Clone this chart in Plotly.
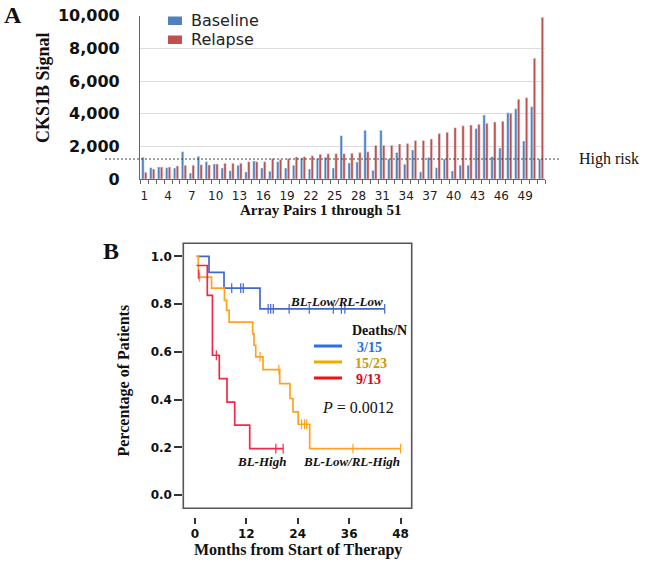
import plotly.graph_objects as go

# ---------------- Panel A data ----------------
pairs = list(range(1, 52))
baseline = [1330, 690, 735, 690, 670, 1670, 370, 1390, 1060, 920,
            670, 510, 840, 430, 1100, 670, 470, 1060, 670, 840,
            1290, 610, 1250, 1330, 670, 2650, 980, 1040, 2980, 530,
            2980, 1220, 1630, 900, 1780, 430, 1310, 690, 1220, 490,
            840, 840, 3100, 3920, 1370, 1900, 4060, 4300, 2320, 4430,
            1220]
relapse = [410, 610, 735, 735, 800, 840, 840, 880, 860, 920,
           960, 960, 960, 1060, 1060, 1060, 1245, 1200, 1245, 1350,
           1370, 1430, 1510, 1550, 1550, 1550, 1570, 1630, 1670, 2060,
           2060, 2060, 2140, 2180, 2350, 2350, 2450, 2780, 2860, 3140,
           3260, 3300, 3350, 3410, 3490, 3530, 4030, 4880, 4980, 7390,
           9900]
HIGH_RISK = 1225
a_yticks = [0, 2000, 4000, 6000, 8000, 10000]
a_yticklabels = ["0", "2,000", "4,000", "6,000", "8,000", "10,000"]
a_xticks = list(range(1, 52, 3))

# ---------------- Panel B data (Kaplan-Meier steps) ----------------
blue_t = [0.4, 3.3, 6.8, 15.2, 44.3]
blue_s = [1.0, 0.933, 0.867, 0.78, 0.78]
blue_c = [8.6, 10.7, 11.3, 17.1, 17.7, 18.3, 22.0, 26.7, 32.3, 34.2, 35.0, 44.3]

orange_t = [0.4, 0.8, 3.9, 6.9, 7.4, 8.0, 13.5, 13.8, 14.2, 15.9, 19.8, 22.2, 22.9, 24.1, 26.8, 48.0]
orange_s = [1.0, 0.913, 0.867, 0.816, 0.774, 0.725, 0.676, 0.628, 0.579, 0.526, 0.467, 0.405, 0.349, 0.297, 0.195, 0.195]
orange_c = [1.1, 15.2, 19.6, 24.9, 25.6, 26.1, 36.9, 48.0]

red_t = [0.4, 2.9, 4.1, 5.7, 7.5, 9.3, 12.8, 20.6]
red_s = [0.962, 0.837, 0.586, 0.488, 0.39, 0.293, 0.195, 0.195]
red_c = [5.0, 18.9, 20.6]
red_extra_c = ([0.9], [0.925])

b_xticks = [0, 12, 24, 36, 48]
b_yticks = [0.0, 0.2, 0.4, 0.6, 0.8, 1.0]

BLUE_BAR = "#4f81bd"
RED_BAR = "#c0504d"
KM_BLUE = "#4466cc"
KM_ORANGE = "#ffa21f"
KM_RED = "#f0284a"

W, H = 645, 563


def px(x):
    return x / W


def py(y):
    return 1 - y / H


def step_level(ts, ss, c):
    lvl = ss[0]
    for t, s in zip(ts, ss):
        if t <= c:
            lvl = s
    return lvl


fig = go.Figure()

fig.add_trace(go.Bar(x=pairs, y=baseline, marker_color=BLUE_BAR, name="Baseline",
                     xaxis="x", yaxis="y", showlegend=False))
fig.add_trace(go.Bar(x=pairs, y=relapse, marker_color=RED_BAR, name="Relapse",
                     xaxis="x", yaxis="y", showlegend=False))

for ts, ss, cs, col in [(blue_t, blue_s, blue_c, KM_BLUE),
                        (orange_t, orange_s, orange_c, KM_ORANGE),
                        (red_t, red_s, red_c, KM_RED)]:
    fig.add_trace(go.Scatter(x=ts, y=ss, mode="lines", line=dict(color=col, width=1.7, shape="hv"),
                             xaxis="x2", yaxis="y2", showlegend=False, hoverinfo="skip"))
    fig.add_trace(go.Scatter(x=cs, y=[step_level(ts, ss, c) for c in cs], mode="markers",
                             marker=dict(symbol="line-ns", size=7, line=dict(color=col, width=1.2)),
                             xaxis="x2", yaxis="y2", showlegend=False, hoverinfo="skip"))
fig.add_trace(go.Scatter(x=red_extra_c[0], y=red_extra_c[1], mode="markers",
                         marker=dict(symbol="line-ns", size=7, line=dict(color=KM_RED, width=1.2)),
                         xaxis="x2", yaxis="y2", showlegend=False, hoverinfo="skip"))

AXC = "#666666"

fig.update_layout(
    width=W, height=H, margin=dict(l=0, r=0, t=0, b=0, autoexpand=False),
    paper_bgcolor="white", plot_bgcolor="white",
    barmode="group", bargap=0.3, bargroupgap=0.12,
    xaxis=dict(domain=[px(140), px(545)], range=[0.46, 51.5], anchor="y", automargin=False,
               tickvals=a_xticks, ticks="", showline=True, linecolor=AXC, linewidth=1.2,
               showgrid=False, zeroline=False, ticklabelstandoff=5,
               tickfont=dict(family="DejaVu Sans", size=12, color="#222"),
               minor=dict(ticks="outside", tick0=0.5, dtick=1, ticklen=4, tickcolor=AXC, tickwidth=1)),
    yaxis=dict(domain=[py(179), py(15.7)], range=[0, 10000], anchor="x", automargin=False,
               tickvals=a_yticks, ticktext=a_yticklabels, ticks="", showline=True,
               linecolor=AXC, linewidth=1.2, showgrid=True, gridcolor="#dcdcdc", gridwidth=1,
               zeroline=False, ticklabelstandoff=16,
               tickfont=dict(family="DejaVu Sans", size=16, color="#111", weight="bold")),
    xaxis2=dict(domain=[px(183.3), px(411.7)], range=[-2.7, 50.6], anchor="free", automargin=False,
                position=py(516.7), tickvals=b_xticks, ticks="outside", ticklen=6,
                tickcolor="#333", tickwidth=1.5, showline=False, showgrid=False, zeroline=False,
                tickfont=dict(family="DejaVu Sans", size=12, color="#111", weight="bold")),
    yaxis2=dict(domain=[py(508.3), py(243.3)], range=[-0.055, 1.055], anchor="x2", automargin=False,
                tickvals=b_yticks, tickformat=".1f", ticks="outside", ticklen=8,
                tickcolor="#333", tickwidth=1.5, showline=False, showgrid=False, zeroline=False,
                tickfont=dict(family="DejaVu Sans", size=12, color="#111", weight="bold")),
)

shapes = [
    # high-risk threshold line
    dict(type="line", xref="paper", yref="y", x0=px(105), x1=px(560), y0=HIGH_RISK, y1=HIGH_RISK,
         line=dict(color="#444", width=1, dash="2px,2px")),
    # Panel A legend swatches
    dict(type="rect", xref="paper", yref="paper", x0=px(168), x1=px(182), y0=py(25), y1=py(16.5),
         fillcolor=BLUE_BAR, line=dict(width=0)),
    dict(type="rect", xref="paper", yref="paper", x0=px(168), x1=px(182), y0=py(44), y1=py(35.5),
         fillcolor=RED_BAR, line=dict(width=0)),
    # Panel B frame
    dict(type="rect", xref="x2 domain", yref="y2 domain", x0=0, x1=1, y0=0, y1=1,
         line=dict(color="#555", width=1.6)),
    # Panel B legend lines
    dict(type="line", xref="paper", yref="paper", x0=px(314), x1=px(342), y0=py(346), y1=py(346),
         line=dict(color="#2a6ee8", width=3)),
    dict(type="line", xref="paper", yref="paper", x0=px(314), x1=px(342), y0=py(362), y1=py(362),
         line=dict(color="#f2a900", width=3)),
    dict(type="line", xref="paper", yref="paper", x0=px(314), x1=px(342), y0=py(378), y1=py(378),
         line=dict(color="#ee1111", width=3)),
]
fig.update_layout(shapes=shapes)

SERIF = "Liberation Serif"


def ann(text, x, y, size, color="#111", bold=False, italic=False, xanchor="center", angle=0, family=SERIF):
    return dict(text=text, x=px(x), y=py(y), xref="paper", yref="paper", showarrow=False,
                xanchor=xanchor, yanchor="middle", textangle=angle,
                font=dict(family=family, size=size, color=color,
                          weight="bold" if bold else "normal",
                          style="italic" if italic else "normal"))


annotations = [
    ann("A", 13, 15, 24, bold=True),
    ann("CKS1B Signal", 43, 88, 18, bold=True, angle=-90),
    ann("Array Pairs 1 through 51", 320, 210, 15, bold=True),
    ann("High risk", 609, 159, 16),
    ann("Baseline", 189, 20.5, 16, color="#222", xanchor="left", family="DejaVu Sans"),
    ann("Relapse", 189, 39.5, 16, color="#222", xanchor="left", family="DejaVu Sans"),
    ann("B", 111, 251, 24, bold=True),
    ann("Percentage of Patients", 123.5, 381, 16, bold=True, angle=-90),
    ann("Months from Start of Therapy", 297.5, 550, 16, bold=True),
    ann("BL-Low/RL-Low", 336, 301, 13, bold=True, italic=True),
    ann("Deaths/N", 379, 330, 14, bold=True),
    ann("3/15", 355, 347, 14, color="#1e6ee6", bold=True, xanchor="left"),
    ann("15/23", 353, 363, 14, color="#c89b00", bold=True, xanchor="left"),
    ann("9/13", 354, 379, 14, color="#e0001a", bold=True, xanchor="left"),
    ann("<i>P</i> = 0.0012", 358, 407, 16),
    ann("BL-High", 261, 461, 13, bold=True, italic=True),
    ann("BL-Low/RL-High", 351, 461, 13, bold=True, italic=True),
]
fig.update_layout(annotations=annotations)

fig.write_html("out.html", config={"displayModeBar": False},
               post_script="document.body.style.margin='0px';document.body.style.overflow='hidden';")
